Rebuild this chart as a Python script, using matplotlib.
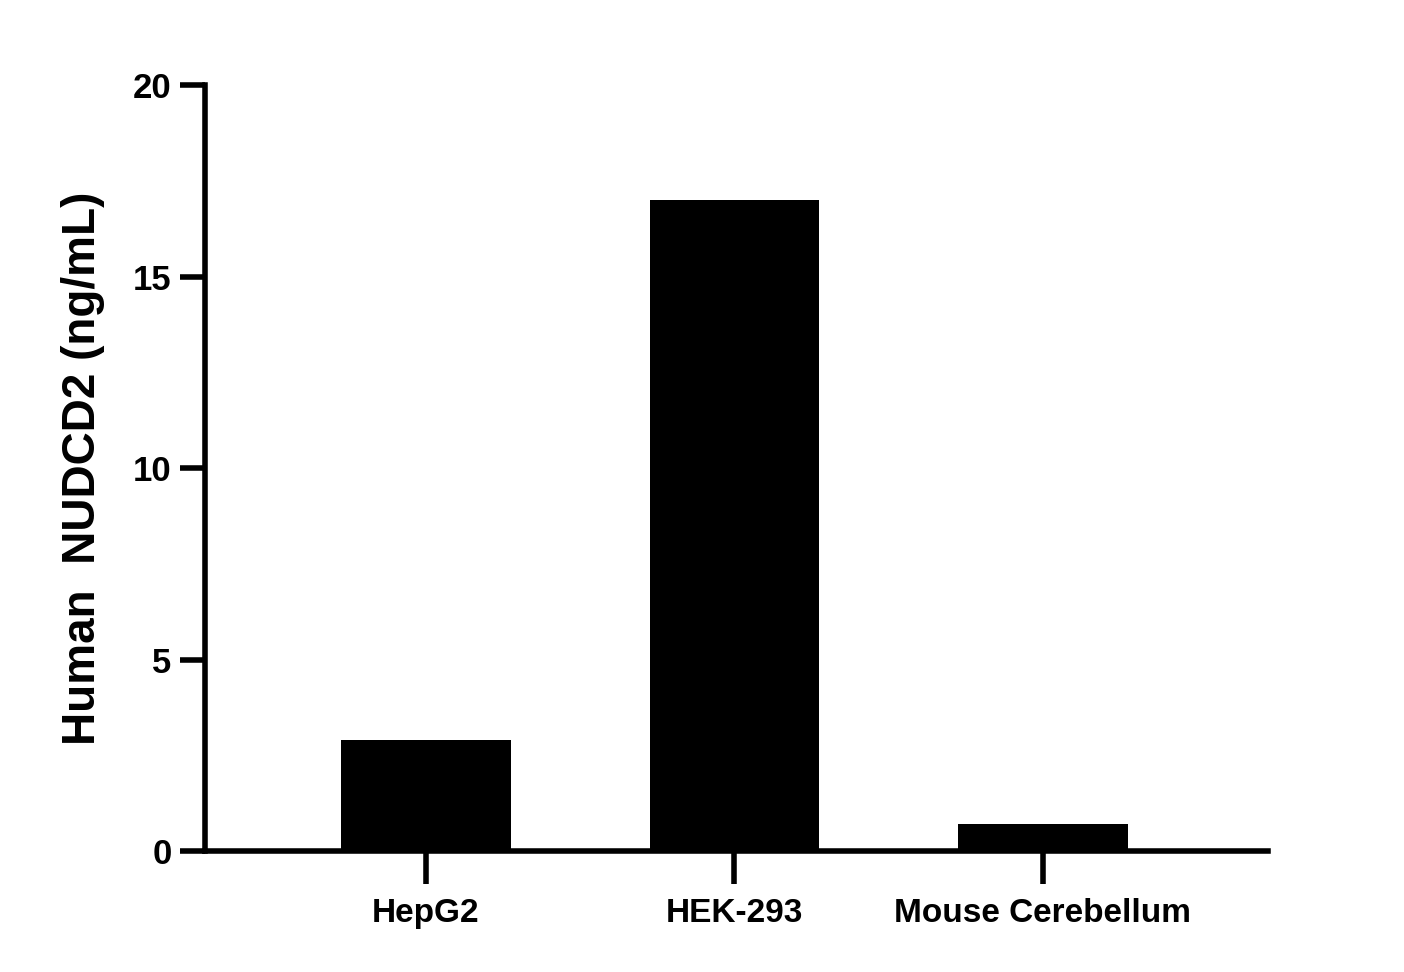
import matplotlib
matplotlib.use("Agg")
import matplotlib.pyplot as plt

categories = ["HepG2", "HEK-293", "Mouse Cerebellum"]
values = [2.9, 17.0, 0.7]
yticks = [0, 5, 10, 15, 20]

plt.rcParams['font.family'] = ['Liberation Sans', 'DejaVu Sans']
fig = plt.figure(figsize=(14.04, 9.72), dpi=100)
ax = fig.add_axes([0.146, 0.1245, 0.757, 0.788])
x = list(range(len(categories)))
ax.bar(x, values, width=0.55, color="black")
ax.set_xlim(-0.717, 2.73)
ax.set_ylim(0, 20)
ax.set_yticks(yticks)
ax.set_xticks(x)
ax.set_xticklabels(categories, fontsize=24, fontweight="bold")
ax.set_yticklabels([str(t) for t in yticks], fontsize=25, fontweight="bold")
for s in ["top", "right"]:
    ax.spines[s].set_visible(False)
for s in ["left", "bottom"]:
    ax.spines[s].set_linewidth(4)
ax.tick_params(axis="y", width=4, length=18, pad=6)
ax.tick_params(axis="x", width=4, length=24, pad=10)
ax.set_ylabel("Human  NUDCD2 (ng/mL)", fontsize=33, fontweight="bold", labelpad=20)
fig.savefig("out.png", dpi=100)
